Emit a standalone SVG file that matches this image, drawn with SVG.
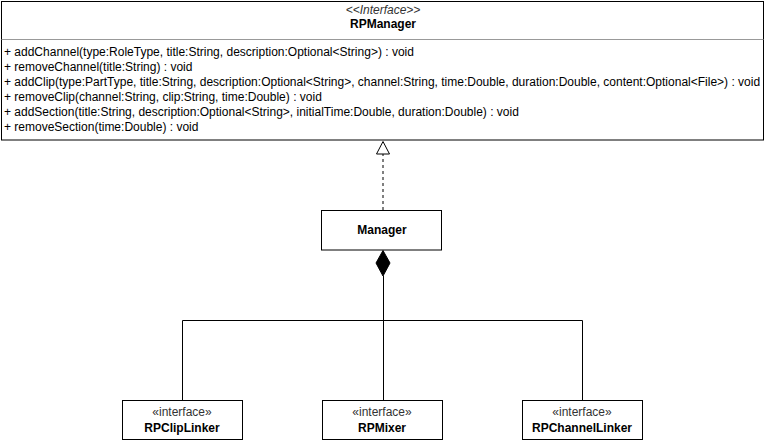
<svg xmlns="http://www.w3.org/2000/svg" width="766" height="441" viewBox="0 0 766 441">
  <style>
    .box { fill: #ffffff; stroke: #000000; stroke-width: 1; }
    .div { stroke: #999999; stroke-width: 1; fill: none; }
    .edge { stroke: #000000; stroke-width: 1; fill: none; }
    .txt { font-family: "Liberation Sans", Arial, Helvetica, sans-serif; font-size: 12px; fill: #000000; }
    .name { font-family: "Liberation Sans", Arial, Helvetica, sans-serif; font-size: 12px; font-weight: bold; fill: #000000; text-anchor: middle; }
    .ster { font-family: "Liberation Sans", Arial, Helvetica, sans-serif; font-size: 12px; fill: #333333; text-anchor: middle; }
  </style>
  <rect width="766" height="441" fill="#ffffff"/>
  <g id="connectors">
    <path class="edge" d="M383 210 V154" stroke-dasharray="3 3"/>
    <path d="M383 141.5 L389.5 154 L376.5 154 Z" fill="#ffffff" stroke="#000000" stroke-width="1"/>
    <path class="edge" d="M383.5 276 V400"/>
    <path d="M383 250.5 L390 263 L383 276 L376 263 Z" fill="#000000" stroke="#000000" stroke-width="1"/>
    <path class="edge" d="M182.5 400 V320.5 H582.5 V400"/>
  </g>
  <g id="RPManager">
    <rect class="box" x="1.5" y="1.5" width="762" height="138.5"/>
    <line class="div" x1="1.5" y1="39.5" x2="763.5" y2="39.5"/>
    <text class="ster" x="383" y="14" font-style="italic" fill="#000000">&lt;&lt;Interface&gt;&gt;</text>
    <text class="name" x="383" y="28">RPManager</text>
    <text class="txt" x="4" y="56">+ addChannel(type:RoleType, title:String, description:Optional&lt;String&gt;) : void</text>
    <text class="txt" x="4" y="71">+ removeChannel(title:String) : void</text>
    <text class="txt" x="4" y="86">+ addClip(type:PartType, title:String, description:Optional&lt;String&gt;, channel:String, time:Double, duration:Double, content:Optional&lt;File&gt;) : void</text>
    <text class="txt" x="4" y="101">+ removeClip(channel:String, clip:String, time:Double) : void</text>
    <text class="txt" x="4" y="116">+ addSection(title:String, description:Optional&lt;String&gt;, initialTime:Double, duration:Double) : void</text>
    <text class="txt" x="4" y="131">+ removeSection(time:Double) : void</text>
  </g>
  <g id="Manager">
    <rect class="box" x="321.5" y="210.5" width="120" height="39.5"/>
    <text class="name" x="382" y="234">Manager</text>
  </g>
  <g id="RPClipLinker">
    <rect class="box" x="122.5" y="400.5" width="120" height="39"/>
    <text class="ster" x="182" y="416">«interface»</text>
    <text class="name" x="182" y="432">RPClipLinker</text>
  </g>
  <g id="RPMixer">
    <rect class="box" x="322.5" y="400.5" width="120" height="39"/>
    <text class="ster" x="382" y="416">«interface»</text>
    <text class="name" x="382" y="432">RPMixer</text>
  </g>
  <g id="RPChannelLinker">
    <rect class="box" x="522.5" y="400.5" width="120" height="39"/>
    <text class="ster" x="582" y="416">«interface»</text>
    <text class="name" x="582" y="432">RPChannelLinker</text>
  </g>
</svg>
